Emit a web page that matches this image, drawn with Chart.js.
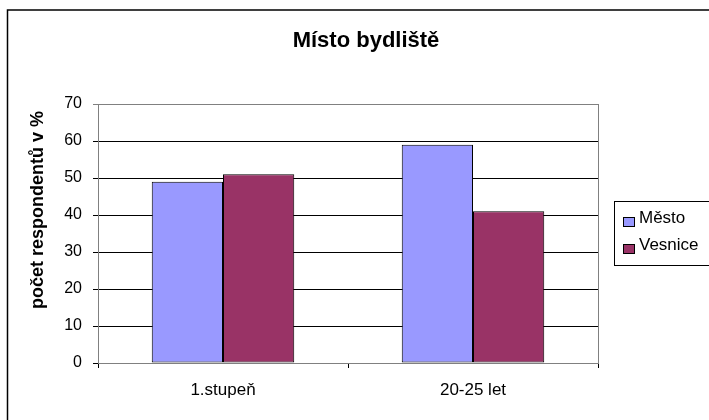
<!DOCTYPE html>
<html lang="cs">
<head>
  <meta charset="UTF-8">
  <title>Místo bydliště</title>
  <script src="https://cdn.jsdelivr.net/npm/chart.js"></script>
  <style>
    body {
      margin: 0;
      padding: 0;
      background: white;
    }
    canvas {
      display: block;
    }
  </style>
</head>
<body>
  <canvas id="chart" width="709" height="420"></canvas>

  <script>
    const categories = ['1.stupeň', '20-25 let'];
    const mesto = [49, 59];
    const vesnice = [51, 41];
    const yTicks = [0, 10, 20, 30, 40, 50, 60, 70];

    const FONT = "'Liberation Sans', Arial, sans-serif";

    // titulek, rámeček, legenda a popisek osy y
    const decor = {
      id: 'decor',
      beforeDatasetsDraw(chart) {
        const a = chart.chartArea;
        const ctx = chart.ctx;
        ctx.save();
        ctx.strokeStyle = '#808080';
        ctx.lineWidth = 1;
        ctx.strokeRect(a.left + 0.5, a.top + 0.5, a.right - a.left, a.bottom - a.top);
        ctx.restore();
      },
      afterDraw(chart) {
        const ctx = chart.ctx;
        ctx.save();
        // vnější rámeček
        ctx.strokeStyle = '#000';
        ctx.lineWidth = 1.5;
        ctx.strokeRect(7.5, 10, 720, 420);

        // titulek
        ctx.fillStyle = '#000';
        ctx.font = 'bold 22px ' + FONT;
        ctx.textAlign = 'center';
        ctx.textBaseline = 'alphabetic';
        ctx.fillText('Místo bydliště', 366, 47);

        // popisek osy y
        ctx.save();
        ctx.translate(43, 210);
        ctx.rotate(-Math.PI / 2);
        ctx.font = 'bold 18px ' + FONT;
        ctx.fillText('počet respondentů v %', 0, 0);
        ctx.restore();

        // legenda
        ctx.lineWidth = 1;
        ctx.strokeStyle = '#000';
        ctx.strokeRect(614.5, 201.5, 120, 64);
        ctx.font = '17px ' + FONT;
        ctx.textAlign = 'left';
        chart.data.datasets.forEach((ds, i) => {
          const y = 223 + i * 27;
          ctx.fillStyle = ds.backgroundColor;
          ctx.fillRect(623, y - 5, 11, 8);
          ctx.strokeRect(623.5, y - 5.5, 11, 9);
          ctx.fillStyle = '#000';
          ctx.fillText(ds.label, 639, y);
        });
        ctx.restore();
      }
    };

    new Chart(document.getElementById('chart'), {
      type: 'bar',
      data: {
        labels: categories,
        datasets: [
          {
            label: 'Město',
            data: mesto,
            backgroundColor: '#9999FF',
            borderColor: '#000',
            borderWidth: 1,
            borderSkipped: false
          },
          {
            label: 'Vesnice',
            data: vesnice,
            backgroundColor: '#993366',
            borderColor: '#000',
            borderWidth: 1,
            borderSkipped: false
          }
        ]
      },
      options: {
        responsive: false,
        animation: false,
        devicePixelRatio: 1,
        layout: {
          padding: { top: 104, right: 111, left: 0, bottom: 0 }
        },
        datasets: {
          bar: {
            categoryPercentage: 0.57,
            barPercentage: 1
          }
        },
        scales: {
          x: {
            afterFit(scale) { scale.height = 57; },
            grid: {
              offset: true,
              drawOnChartArea: false,
              color: '#000',
              tickLength: 5
            },
            border: { color: '#000' },
            ticks: {
              color: '#000',
              padding: 12,
              font: { family: FONT, size: 17 }
            }
          },
          y: {
            min: 0,
            max: 70,
            afterFit(scale) { scale.width = 98; },
            afterBuildTicks(scale) {
              scale.ticks = yTicks.map(v => ({ value: v }));
            },
            grid: {
              color: c => (c.tick && c.tick.value === 70 ? '#808080' : '#000'),
              tickLength: 5
            },
            border: { color: '#000' },
            ticks: {
              color: '#000',
              padding: 11,
              font: { family: FONT, size: 16 }
            }
          }
        },
        plugins: {
          legend: { display: false },
          title: { display: false },
          tooltip: { enabled: false }
        }
      },
      plugins: [decor]
    });
  </script>
</body>
</html>
